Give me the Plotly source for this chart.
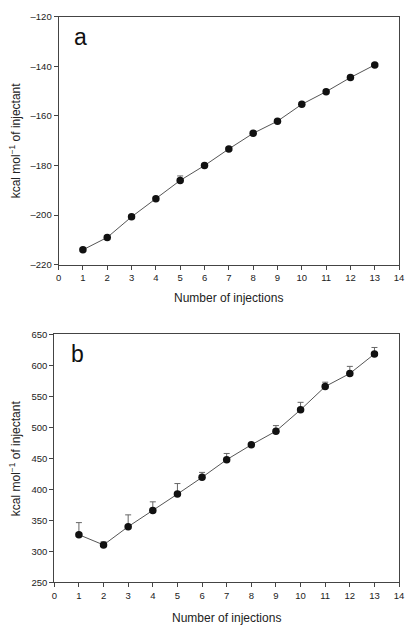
import plotly.graph_objects as go

injections = list(range(1, 14))
heat_a = [-214.0, -209.0, -200.7, -193.4, -186.0, -180.0, -173.3, -167.0, -162.1, -155.3, -150.2, -144.5, -139.4]
err_a = [0.6, 0.6, 0.6, 0.6, 1.8, 0.6, 0.6, 0.6, 0.6, 0.6, 0.6, 0.6, 0.6]
heat_b = [327.0, 310.5, 340.0, 366.0, 392.5, 419.5, 448.0, 472.0, 494.0, 528.5, 566.0, 587.0, 618.5]
err_b = [19.5, 5.0, 19.0, 14.0, 17.0, 8.0, 10.0, 2.0, 9.0, 12.0, 7.0, 11.5, 10.5]
yticks_a = [-220, -200, -180, -160, -140, -120]
yticks_b = [250, 300, 350, 400, 450, 500, 550, 600, 650]

W, H = 409, 629
def px_x(a, b):
    return [a / W, b / W]
def px_y(top, bottom):
    return [1 - bottom / H, 1 - top / H]
def fmt(v):
    return ("–" + str(-v)) if v < 0 else str(v)

fig = go.Figure()
line_col = "#444444"
for i, (y, e) in enumerate([(heat_a, err_a), (heat_b, err_b)]):
    sfx = "" if i == 0 else "2"
    fig.add_trace(go.Scatter(
        x=injections, y=y, mode="lines+markers",
        xaxis="x" + sfx, yaxis="y" + sfx,
        line=dict(color="#555555", width=1),
        marker=dict(color="#111111", size=7.5),
        error_y=dict(type="data", array=e, arrayminus=[0] * len(e), symmetric=False,
                     color="#666666", thickness=1, width=3),
        showlegend=False,
    ))

tickfont = dict(family="Liberation Sans, Arial", size=9.5, color="#222222")
axis_common = dict(showline=True, linecolor=line_col, linewidth=1, mirror=True,
                   ticks="outside", ticklen=4, tickcolor=line_col, tickfont=tickfont,
                   showgrid=False, zeroline=False, ticklabeloverflow="allow")

fig.update_layout(
    width=W, height=H, margin=dict(l=0, r=0, t=0, b=0),
    paper_bgcolor="white", plot_bgcolor="white",
    xaxis=dict(domain=px_x(56.7, 404), range=[0, 14], dtick=1, anchor="y", **axis_common),
    yaxis=dict(domain=px_y(11, 263.3), range=[-220, -120], tickvals=yticks_a,
               ticktext=[fmt(v) for v in yticks_a], anchor="x", **axis_common),
    xaxis2=dict(domain=px_x(52.3, 404), range=[0, 14], dtick=1, anchor="y2", **axis_common),
    yaxis2=dict(domain=px_y(334.3, 586.7), range=[250, 650], tickvals=yticks_b,
                ticktext=[fmt(v) for v in yticks_b], anchor="x2", **axis_common),
)

title_font = dict(family="Liberation Sans, Arial", size=12, color="#222222")
ann = [
    dict(text="Number of injections", x=230 / W, y=1 - 296.7 / H),
    dict(text="Number of injections", x=228 / W, y=1 - 622.7 / H),
    dict(text="kcal mol<sup>−1</sup> of injectant", x=12.5 / W, y=1 - 136.5 / H, textangle=-90),
    dict(text="kcal mol<sup>−1</sup> of injectant", x=13 / W, y=1 - 460.5 / H, textangle=-90),
]
for a in ann:
    fig.add_annotation(xref="paper", yref="paper", showarrow=False,
                       xanchor="center", yanchor="middle", font=title_font, **a)
for lab, x, y in [("a", 79, 32), ("b", 76, 354)]:
    fig.add_annotation(xref="paper", yref="paper", showarrow=False, text=lab,
                       x=x / W, y=1 - y / H, xanchor="center", yanchor="middle",
                       font=dict(family="Liberation Sans, Arial", size=23, color="#111111"))

fig.write_html("out.html")
